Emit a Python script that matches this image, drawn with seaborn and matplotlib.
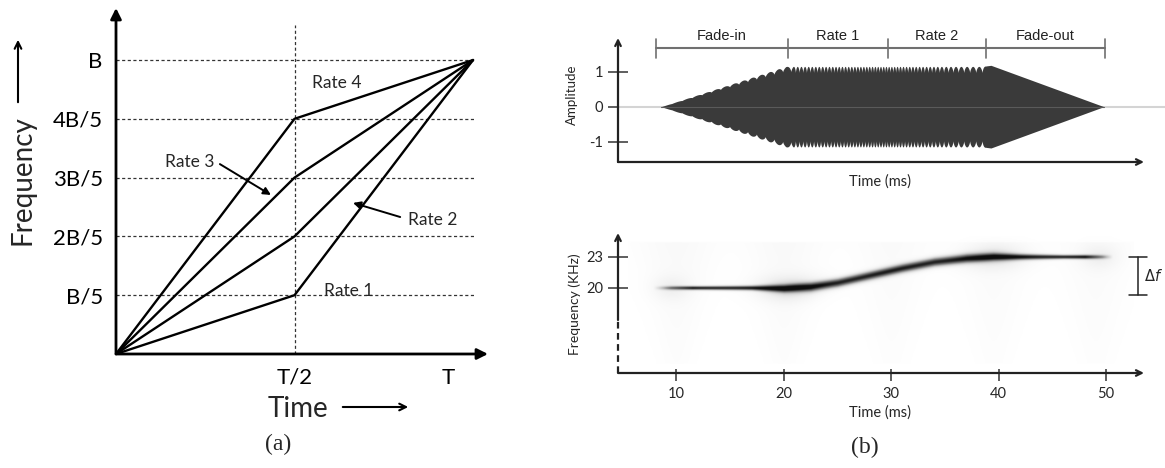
import numpy as np
import pandas as pd
import matplotlib
matplotlib.use("Agg")
import matplotlib.pyplot as plt
import seaborn as sns
from matplotlib.transforms import ScaledTranslation

# ---------------- data ----------------
# panel (a): piecewise-linear frequency sweeps (time in units of T, frequency in units of B)
a_time = [0.0, 0.5, 1.0]
a_rates = ["Rate 1", "Rate 2", "Rate 3", "Rate 4"]
a_mid_freq = [0.2, 0.4, 0.6, 0.8]
a_start_freq = 0.0
a_end_freq = 1.0
a_ytick_vals = [0.2, 0.4, 0.6, 0.8, 1.0]
a_ytick_labels = ["B/5", "2B/5", "3B/5", "4B/5", "B"]
a_xtick_vals = [0.5, 1.0]
a_xtick_labels = ["T/2", "T"]

# panel (b) top: stimulus segments (ms) and amplitude envelope
seg_edges = [8.1, 20.4, 29.7, 38.8, 49.9]
seg_labels = ["Fade-in", "Rate 1", "Rate 2", "Fade-out"]
env_t = [8.6, 20.2, 21.0, 38.5, 39.3, 49.8]
env_a = [0.0, 1.15, 1.15, 1.15, 1.18, 0.0]
scal_t = [8.6, 14.0, 20.4, 21.0, 25.0, 29.7, 34.0, 37.0, 38.8, 49.8]
scal_period = [1.0, 0.85, 0.8, 0.35, 0.3, 0.25, 0.35, 0.55, 0.6, 0.6]
scal_depth_t = [8.6, 20.4, 21.0, 38.5, 38.9, 49.8]
scal_depth = [0.10, 0.12, 0.16, 0.16, 0.0, 0.0]
amp_ticks = [-1, 0, 1]

# panel (b) bottom: spectrogram ridge (ms, kHz)
tr_t = [8.8, 12, 17, 20, 22.5, 25, 28, 31, 34, 37, 39.5, 42, 46, 49.8]
tr_f = [20.0, 20.0, 20.0, 19.95, 20.1, 20.5, 21.2, 21.9, 22.5, 22.85, 23.0, 23.0, 23.0, 23.0]
tr_w = [0.13, 0.13, 0.16, 0.26, 0.3, 0.3, 0.3, 0.3, 0.3, 0.3, 0.27, 0.2, 0.14, 0.14]
tr_int_t = [7.8, 9.5, 11.5, 48.0, 49.6, 50.6]
tr_int = [0.0, 0.55, 0.92, 0.92, 0.45, 0.0]
halo_t = [9.5, 20.5, 39.5, 49.3]
halo_sig = [1.2, 2.0, 2.0, 1.2]
halo_amp = [0.10, 0.22, 0.18, 0.10]
cone_t = [10.0, 20.0, 30.0, 39.5, 49.0]
cone_amp = [0.05, 0.05, 0.04, 0.04, 0.04]
freq_ticks = [20, 23]
time_ticks = [10, 20, 30, 40, 50]

# ---------------- figure ----------------
W, H = 1165, 468
sns.set_theme(style="white")
plt.rcParams["font.family"] = ["Lato", "DejaVu Sans"]
fig = plt.figure(figsize=(W / 100, H / 100), dpi=100)
fig.patch.set_facecolor("white")


def px_axes(l, r, b_, t):
    return fig.add_axes([l / W, 1 - b_ / H, (r - l) / W, (b_ - t) / H])


def fig_xy(x, y):
    return (x / W, 1 - y / H)


# ======== panel (a) ========
ax = px_axes(116, 488, 354, 8)
ax.set_xlim(0, 1.042)
ax.set_ylim(0, 1.177)
for s in ax.spines.values():
    s.set_visible(False)
ax.patch.set_alpha(0)

rows = []
for r, m in zip(a_rates, a_mid_freq):
    for t, f in zip(a_time, [a_start_freq, m, a_end_freq]):
        rows.append(dict(time=t, freq=f, rate=r))
df_a = pd.DataFrame(rows)

for v in a_ytick_vals:
    ax.plot([0, 1.006], [v, v], color="#333333", lw=0.9, ls=(0, (2.5, 2)), zorder=1)
ax.plot([0.5, 0.5], [0, 1.119], color="#333333", lw=0.9, ls=(0, (2.5, 2)), zorder=1, clip_on=False)

sns.lineplot(data=df_a, x="time", y="freq", units="rate", estimator=None,
             color="black", lw=1.7, ax=ax, zorder=3, legend=False)

ax.annotate("", xy=(1.0, 0), xytext=(0, 0), xycoords="axes fraction",
            arrowprops=dict(arrowstyle="-|>", lw=2.0, color="black",
                            mutation_scale=16, shrinkA=0, shrinkB=0))
ax.annotate("", xy=(0, 1.0), xytext=(0, 0), xycoords="axes fraction",
            arrowprops=dict(arrowstyle="-|>", lw=2.0, color="black",
                            mutation_scale=16, shrinkA=0, shrinkB=0))

ax.set_yticks(a_ytick_vals, a_ytick_labels)
ax.set_xticks(a_xtick_vals, a_xtick_labels)
ax.tick_params(axis="both", length=0, labelsize=16, colors="black")
ax.tick_params(axis="y", pad=9.5)
ax.tick_params(axis="x", pad=10)
lbl = ax.get_xticklabels()[1]
lbl.set_transform(lbl.get_transform() + ScaledTranslation(-25 / 100, 0, fig.dpi_scale_trans))
ax.set_xlabel("")
ax.set_ylabel("")

ax.text(0.619, 0.922, "Rate 4", fontsize=12.5, ha="center", va="center")
ax.text(0.207, 0.653, "Rate 3", fontsize=12.5, ha="center", va="center")
ax.text(0.888, 0.456, "Rate 2", fontsize=12.5, ha="center", va="center")
ax.text(0.653, 0.214, "Rate 1", fontsize=12.5, ha="center", va="center")
ax.annotate("", xy=(0.434, 0.541), xytext=(0.291, 0.646),
            arrowprops=dict(arrowstyle="-|>", lw=1.4, color="black", mutation_scale=11,
                            shrinkA=0, shrinkB=0))
ax.annotate("", xy=(0.664, 0.514), xytext=(0.796, 0.466),
            arrowprops=dict(arrowstyle="-|>", lw=1.4, color="black", mutation_scale=11,
                            shrinkA=0, shrinkB=0))

fig.text(*fig_xy(22, 180), "Frequency", rotation=90, fontsize=20, ha="center", va="center")
fig.text(*fig_xy(298, 409), "Time", fontsize=20, ha="center", va="center")
fig.patches.append(matplotlib.patches.FancyArrowPatch(
    fig_xy(18, 105), fig_xy(18, 37), transform=fig.transFigure, arrowstyle="->",
    mutation_scale=12, lw=1.5, color="black"))
fig.patches.append(matplotlib.patches.FancyArrowPatch(
    fig_xy(340, 407), fig_xy(411, 407), transform=fig.transFigure, arrowstyle="->",
    mutation_scale=12, lw=1.5, color="black"))
fig.text(*fig_xy(278, 444), "(a)", fontsize=17, family="Liberation Serif", ha="center", va="center")

# ======== panel (b) top ========
XL = (4.59, 53.54)
ax1 = px_axes(618, 1144, 162, 38)
ax1.set_xlim(*XL)
ax1.set_ylim(-1.58, 1.96)
for s in ax1.spines.values():
    s.set_visible(False)
ax1.patch.set_alpha(0)

ax1.axhline(0, xmin=0, xmax=(1165 - 618) / (1144 - 618), color="#d4d4d4", lw=1.5, clip_on=False, zorder=1)

tt = np.linspace(env_t[0], env_t[-1], 12000)
env = np.interp(tt, env_t, env_a)
per = np.interp(tt, scal_t, scal_period)
phase = np.concatenate([[0], np.cumsum(np.diff(tt) / per[1:])])
depth = np.interp(tt, scal_depth_t, scal_depth)
edge = env * (1 - depth * (1 - np.abs(np.sin(np.pi * phase)) ** 0.6))
ax1.fill_between(tt, -edge, edge, color="#3a3a3a", lw=0, zorder=2)
ax1.plot([env_t[0], env_t[-1]], [0, 0], color="#5a5a5a", lw=0.8, zorder=3)

ax1.annotate("", xy=(1.0, 0), xytext=(0, 0), xycoords="axes fraction",
             arrowprops=dict(arrowstyle="->", lw=1.6, color="#222222",
                             mutation_scale=10, shrinkA=0, shrinkB=0))
ax1.annotate("", xy=(0, 1.0), xytext=(0, 0), xycoords="axes fraction",
             arrowprops=dict(arrowstyle="->", lw=1.6, color="#222222",
                             mutation_scale=10, shrinkA=0, shrinkB=0))
ax1.set_yticks(amp_ticks, [str(v) for v in amp_ticks])
ax1.set_xticks([])
ax1.tick_params(axis="y", direction="inout", length=14.4, width=1.1, color="#333333",
                labelsize=10.5, pad=3.6, left=True)

ax1.plot([seg_edges[0], seg_edges[-1]], [1.677, 1.677], color="#707070", lw=1.5, clip_on=False)
for e in seg_edges:
    ax1.plot([e, e], [1.39, 1.92], color="#707070", lw=1.2, clip_on=False)
for i, lab in enumerate(seg_labels):
    ax1.text((seg_edges[i] + seg_edges[i + 1]) / 2, 2.03, lab, fontsize=10.5,
             family="Liberation Sans", ha="center", va="center", color="#222222")

fig.text(*fig_xy(572, 95), "Amplitude", rotation=90, fontsize=9.5, ha="center", va="center")
fig.text(*fig_xy(880, 182), "Time (ms)", fontsize=10.5, ha="center", va="center")

# ======== panel (b) bottom ========
ax2 = px_axes(618, 1144, 373, 233)
ax2.set_xlim(*XL)
ax2.set_ylim(11.77, 25.32)
for s in ax2.spines.values():
    s.set_visible(False)
ax2.patch.set_alpha(0)

tg = np.linspace(5.5, 52.5, 700)
fg = np.linspace(12.2, 25.0, 320)
T, F = np.meshgrid(tg, fg)
f0 = np.interp(tg, tr_t, tr_f)
w0 = np.interp(tg, tr_t, tr_w)
i0 = np.interp(tg, tr_int_t, tr_int)
img = i0[None, :] * np.exp(-0.5 * ((F - f0[None, :]) / w0[None, :]) ** 2)
for ct, cs, ca in zip(halo_t, halo_sig, halo_amp):
    img += ca * np.exp(-0.5 * ((T - ct) / cs) ** 2) * np.exp(-0.5 * ((F - f0[None, :]) / 0.8) ** 2)
for ct, ca in zip(cone_t, cone_amp):
    frac = np.clip((F - 12.7) / (24.4 - 12.7), 0, 1)
    sig = 1.0 + 1.6 * frac
    img += ca * np.exp(-0.5 * ((T - ct) / sig) ** 2) * (0.4 + 0.6 * frac) * ((F > 12.7) & (F < 24.4))
img = np.clip(img, 0, 1)
ax2.imshow(img, extent=[tg[0], tg[-1], fg[0], fg[-1]], origin="lower", cmap="Greys",
           vmin=0, vmax=1.05, aspect="auto", interpolation="bilinear", zorder=1)
ax2.set_xlim(*XL)
ax2.set_ylim(11.77, 25.32)

dash_frac = (16.9 - 11.77) / (25.32 - 11.77)
ax2.plot([0, 0], [0, dash_frac], transform=ax2.transAxes, color="#222222", lw=1.6,
         ls=(0, (3, 2)), clip_on=False)
ax2.annotate("", xy=(0, 1.0), xytext=(0, dash_frac), xycoords="axes fraction",
             arrowprops=dict(arrowstyle="->", lw=1.6, color="#222222",
                             mutation_scale=10, shrinkA=0, shrinkB=0))
ax2.annotate("", xy=(1.0, 0), xytext=(0, 0), xycoords="axes fraction",
             arrowprops=dict(arrowstyle="->", lw=1.6, color="#222222",
                             mutation_scale=10, shrinkA=0, shrinkB=0))
ax2.set_yticks(freq_ticks, [str(v) for v in freq_ticks])
ax2.set_xticks(time_ticks, [str(v) for v in time_ticks])
ax2.tick_params(axis="y", direction="inout", length=14.4, width=1.1, color="#333333",
                labelsize=10.5, pad=3.6, left=True)
ax2.tick_params(axis="x", direction="inout", length=12, width=1.1, color="#333333",
                labelsize=10.5, pad=4, bottom=True)

ax2.plot([53.0, 53.0], [19.3, 23.0], color="#222222", lw=1.1, clip_on=False)
for yv in [19.3, 23.0]:
    ax2.plot([52.15, 53.85], [yv, yv], color="#222222", lw=1.1, clip_on=False)
ax2.text(53.55, 21.2, r"$\Delta f$", fontsize=10.5, ha="left", va="center")

fig.text(*fig_xy(575, 304), "Frequency (KHz)", rotation=90, fontsize=10, ha="center", va="center")
fig.text(*fig_xy(880, 413), "Time (ms)", fontsize=10.5, ha="center", va="center")
fig.text(*fig_xy(865, 447), "(b)", fontsize=17, family="Liberation Serif", ha="center", va="center")

fig.savefig("out.png", dpi=100, facecolor="white")
